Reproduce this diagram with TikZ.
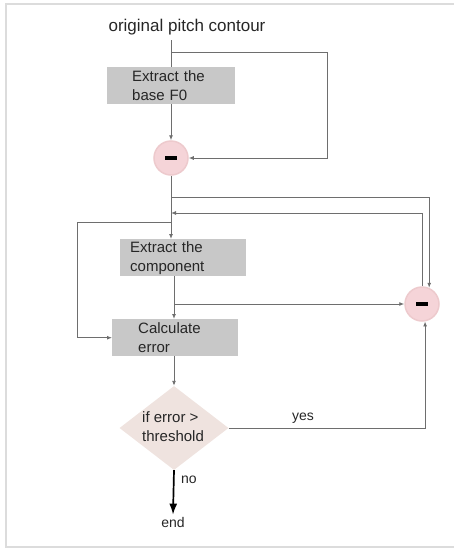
\documentclass[tikz,border=0pt]{standalone}
\usepackage{fontspec}
\setmainfont{Liberation Sans}
\usetikzlibrary{shapes.geometric,arrows.meta}
\definecolor{boxgray}{HTML}{C8C8C8}
\definecolor{linegray}{HTML}{6E6E6E}
\definecolor{pinkc}{HTML}{F5D4D8}
\definecolor{pinkedge}{HTML}{EDCACD}
\definecolor{diamc}{HTML}{EFE3DF}
\definecolor{txt}{HTML}{262626}
\definecolor{framec}{HTML}{DCDCDC}
\begin{document}
\begin{tikzpicture}[x=1pt,y=-1pt,
 conn/.style={draw=linegray, line width=0.9pt},
 arr/.style={conn, -{Latex[length=5pt,width=4pt]}},
 box/.style={fill=boxgray, draw=none, align=left, font=\fontsize{15}{19}\selectfont, text=txt, minimum height=37pt, inner ysep=1pt, anchor=north west},
 sub/.style={circle, fill=pinkc, draw=pinkedge, line width=1.5pt, minimum size=34pt, inner sep=0},
 minus/.style={fill=black, minimum width=12pt, minimum height=4.5pt, inner sep=0},
 lbl/.style={text=txt, font=\fontsize{14}{18}\selectfont, inner sep=0}
]
\useasboundingbox (0,0) rectangle (454,549);
\draw[framec, line width=1.3pt] (454,4) -- (6,4) -- (6,547) -- (454,547);

% nodes
\node[lbl, font=\fontsize{17}{20}\selectfont] (title) at (187,27) {original pitch contour};
\node[box, text width=78pt, inner xsep=25pt] (b1) at (107,67) {Extract the\\base F0};
\node[sub] (s1) at (171,158) {};
\node[minus] (m1) at (s1) {};
\node[box, text width=106pt, inner xsep=10pt] (b2) at (120,239) {Extract the\\component};
\node[box, text width=74pt, inner xsep=26pt] (b3) at (112,319) {Calculate\\error};
\node[sub] (s2) at (422,304) {};
\node[minus] (m2) at (s2) {};
\node[diamond, fill=diamc, draw=none, minimum width=109pt, minimum height=84pt, inner sep=0] (d) at (174,428) {};
\node[lbl, align=left, anchor=west, font=\fontsize{15}{19}\selectfont] (dt) at (142,427) {if error >\\threshold};
\node[lbl] (yes) at (303,418) {yes};
\node[lbl, anchor=west] (no) at (181,480) {no};
\node[lbl, inner sep=2pt] (endn) at (173,522) {end};

% helper coordinates
\coordinate (t0) at (171,40);
\coordinate (t1) at (171,52);
\coordinate (r1) at (327,52);
\coordinate (j1) at (171,197);
\coordinate (j2) at (171,213);
\coordinate (j3) at (171,222);
\coordinate (l1) at (77,222);
\coordinate (cx) at (174,0);
\coordinate (j4) at (174,304);

% connectors
\draw[conn] (t0) -- (b1.north -| t0);
\draw[arr] (t1) -- (r1) |- (s1.east);
\draw[arr] (b1.south -| s1) -- (s1.north);
\draw[arr] (s1.south) -- (s1.south |- b2.north);
\draw[arr] (j1) -| (s2.66);
\draw[arr] (s2.87) |- (j2);
\draw[arr] (j3) -- (l1) |- (b3.west);
\draw[arr] (b2.south -| cx) -- (b3.north -| cx);
\draw[arr] (j4) -- (s2.west);
\draw[arr] (b3.south -| cx) -- (d.north);
\draw[arr] (d.east) -| (s2.-80);
\draw[draw=black, line width=1.7pt, -{Latex[length=11pt,width=8pt]}] (d.south) -- (endn.north);
\end{tikzpicture}
\end{document}
